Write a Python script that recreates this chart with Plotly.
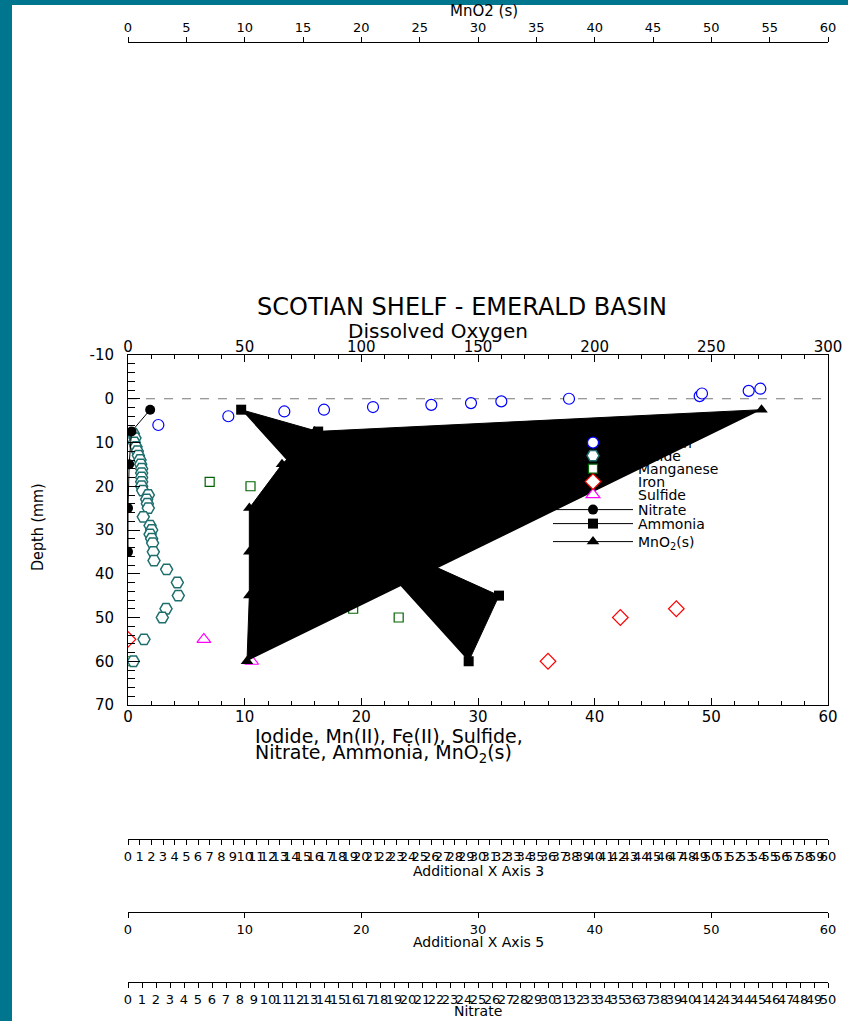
import plotly.graph_objects as go

# ---------------- data ----------------
oxygen_conc = [13, 43, 67, 84, 105, 130, 147, 160, 189, 245, 246, 266, 271]
oxygen_depth = [6.0, 4.0, 2.9, 2.5, 1.9, 1.4, 1.0, 0.6, 0.0, -0.6, -1.2, -1.8, -2.3]

iodide_depth = [8, 9, 10, 11, 12, 13, 14, 15, 16, 17, 18, 19, 20, 21, 22, 23, 24, 25,
                27, 29, 30, 31, 32, 33, 35, 37, 39, 42, 45, 48, 50, 55, 60]
iodide_conc = [0.46, 0.6, 0.54, 0.69, 0.8, 0.89, 1.03, 1.09, 1.17, 1.17, 1.17, 1.17, 1.17,
               1.26, 1.74, 1.6, 1.66, 1.74, 1.31, 1.89, 2.03, 1.89, 2.03, 2.11, 2.17, 2.23,
               3.31, 4.23, 4.31, 3.26, 2.94, 1.37, 0.46]

manganese_depth = [19, 20, 48, 50, 60]
manganese_conc = [7.0, 10.5, 19.3, 23.2, 0.0]

iron_depth = [55, 60, 50, 48]
iron_conc = [0.0, 36.0, 42.2, 47.0]

sulfide_depth = [55, 60]
sulfide_conc = [6.5, 10.6]

nitrate_depth = [2.5, 7.5, 15, 25, 35]
nitrate_conc = [1.9, 0.3, 0.1, 0.0, 0.0]

ammonia_depth = [2.5, 7.5, 15, 25, 35, 45, 60]
ammonia_conc = [9.7, 16.3, 18.0, 20.0, 23.5, 31.8, 29.2]

mno2_depth = [2.5, 7.5, 15, 25, 35, 45, 60]
mno2_conc = [54.3, 16.0, 13.2, 10.4, 10.4, 10.4, 10.2]

depth_tick_vals = [-10, 0, 10, 20, 30, 40, 50, 60, 70]
depth_tick_text = ["-10", "0", "10", "20", "30", "40", "50", "60", "70"]

# ---------------- layout helpers ----------------
W, H = 848, 1021
ML, MR = 128, 20
PW = W - ML - MR


def px(p):
    return (p - ML) / PW


def py(p):
    return 1 - p / H


FONT = "DejaVu Sans"
TEAL = "#00768E"
black = "black"

# one legend box per row so the rows can sit as tightly as in the original
legend_rows = {"legend": 443, "legend2": 456, "legend3": 469, "legend4": 482,
               "legend5": 495, "legend6": 510, "legend7": 524, "legend8": 542}

fig = go.Figure()

fig.add_trace(go.Scatter(x=manganese_conc, y=manganese_depth, mode="markers", name="Manganese",
                         legend="legend3",
                         marker=dict(symbol="square", size=9, color="white",
                                     line=dict(color="#006400", width=1.2))))
fig.add_trace(go.Scatter(x=sulfide_conc, y=sulfide_depth, mode="markers", name="Sulfide",
                         legend="legend5",
                         marker=dict(symbol="triangle-up", size=12, color="white",
                                     line=dict(color="#FF00FF", width=1.2))))
fig.add_trace(go.Scatter(x=iron_conc, y=iron_depth, mode="markers", name="Iron",
                         legend="legend4",
                         marker=dict(symbol="diamond", size=12, color="white",
                                     line=dict(color="#FF0000", width=1.2))))
fig.add_trace(go.Scatter(x=iodide_conc, y=iodide_depth, mode="markers", name="Iodide",
                         legend="legend2",
                         marker=dict(symbol="hexagon2", size=12, color="white",
                                     line=dict(color="#1F6E6E", width=1.5))))
fig.add_trace(go.Scatter(x=nitrate_conc, y=nitrate_depth, mode="lines+markers", name="Nitrate",
                         legend="legend6",
                         line=dict(color=black, width=1),
                         marker=dict(symbol="circle", size=10, color=black)))
fig.add_trace(go.Scatter(x=ammonia_conc, y=ammonia_depth, mode="none", fill="toself",
                         fillcolor=black, showlegend=False, hoverinfo="skip"))
fig.add_trace(go.Scatter(x=mno2_conc, y=mno2_depth, mode="none", fill="toself",
                         fillcolor=black, showlegend=False, hoverinfo="skip"))
fig.add_trace(go.Scatter(x=ammonia_conc, y=ammonia_depth, mode="lines+markers", name="Ammonia",
                         legend="legend7",
                         line=dict(color=black, width=1),
                         marker=dict(symbol="square", size=10, color=black)))
fig.add_trace(go.Scatter(x=mno2_conc, y=mno2_depth, mode="lines+markers",
                         name="MnO<sub>2</sub>(s)", legend="legend8",
                         line=dict(color=black, width=1),
                         marker=dict(symbol="triangle-up", size=11, color=black)))
fig.add_trace(go.Scatter(x=oxygen_conc, y=oxygen_depth, mode="markers", name="Oxygen",
                         legend="legend", xaxis="x2", yaxis="y",
                         marker=dict(symbol="circle", size=11, color="white",
                                     line=dict(color="#0000FF", width=1.2))))

# empty traces so that the extra (data-free) axes get drawn
for ax in ["x3", "x4", "x5", "x6"]:
    fig.add_trace(go.Scatter(x=[None], y=[None], xaxis=ax, yaxis="y", mode="markers",
                             showlegend=False, hoverinfo="skip"))

tickfont = dict(family=FONT, size=15, color=black)
small_tickfont = dict(family=FONT, size=13, color=black)

common_axis = dict(showgrid=False, zeroline=False, showline=True, linecolor=black,
                   linewidth=1, tickcolor=black, tickwidth=1, automargin=False)

legend_style = dict(x=px(548), xanchor="left", yanchor="middle", bgcolor="rgba(0,0,0,0)",
                    borderwidth=0, itemwidth=80, font=dict(family=FONT, size=14, color=black))
legend_layout = {name: dict(y=py(row), **legend_style) for name, row in legend_rows.items()}

fig.update_layout(
    width=W, height=H,
    margin=dict(l=ML, r=MR, t=0, b=0, pad=0, autoexpand=False),
    paper_bgcolor=TEAL,
    plot_bgcolor="white",
    showlegend=True,
    **legend_layout,
    xaxis=dict(domain=[0, 1], anchor="y", range=[0, 60], tick0=0, dtick=10,
               ticks="inside", ticklen=7, tickfont=tickfont, ticklabelstandoff=-2,
               minor=dict(ticks="inside", dtick=2, ticklen=4, tickcolor=black),
               **common_axis),
    yaxis=dict(domain=[py(705), py(355)], anchor="x", range=[70, -10],
               tickmode="array", tickvals=depth_tick_vals, ticktext=depth_tick_text,
               ticks="inside", ticklen=12, tickfont=tickfont, mirror=True,
               ticklabelstandoff=10,
               minor=dict(ticks="inside", tick0=0, dtick=2, ticklen=7, tickcolor=black),
               **common_axis),
    xaxis2=dict(overlaying="x", anchor="y", side="top", range=[0, 300], tick0=0, dtick=50,
                ticks="inside", ticklen=7, tickfont=tickfont, ticklabelstandoff=-4,
                minor=dict(ticks="inside", dtick=10, ticklen=4, tickcolor=black),
                **common_axis),
    xaxis3=dict(overlaying="x", anchor="free", position=py(42), side="top",
                range=[0, 60], tick0=0, dtick=5, ticks="outside", ticklen=5,
                tickfont=small_tickfont, tickangle=0, **common_axis),
    xaxis4=dict(overlaying="x", anchor="free", position=py(839), side="bottom",
                range=[0, 60], tick0=0, dtick=1, ticks="outside", ticklen=5,
                tickfont=small_tickfont, tickangle=0, **common_axis),
    xaxis5=dict(overlaying="x", anchor="free", position=py(912), side="bottom",
                range=[0, 60], tick0=0, dtick=10, ticks="outside", ticklen=5,
                tickfont=small_tickfont, tickangle=0, **common_axis),
    xaxis6=dict(overlaying="x", anchor="free", position=py(982), side="bottom",
                range=[0, 50], tick0=0, dtick=1, ticks="outside", ticklen=5,
                tickfont=small_tickfont, tickangle=0, **common_axis),
)

# white page area and the dashed surface line
fig.add_shape(type="rect", xref="paper", yref="paper", x0=px(12), x1=px(W + 5),
              y0=py(H + 5), y1=py(5), fillcolor="white", line=dict(width=0), layer="below")
fig.add_shape(type="line", xref="paper", yref="y", x0=0, x1=1, y0=0, y1=0,
              line=dict(color="#777777", width=1, dash="dash"), layer="below")


def note(text, x, y, size, **kw):
    fig.add_annotation(text=text, xref="paper", yref="paper", x=x, y=y, showarrow=False,
                       font=dict(family=kw.pop("family", FONT), size=size, color=black), **kw)


note("SCOTIAN SHELF - EMERALD BASIN", px(462), py(307), 24, xanchor="center", yanchor="middle")
note("Dissolved Oxygen", px(438), py(331), 20, xanchor="center", yanchor="middle")
note("Iodide, Mn(II), Fe(II), Sulfide,", px(253), py(736), 19, xanchor="left", yanchor="middle")
note("Nitrate, Ammonia, MnO<sub>2</sub>(s)", px(253), py(753), 19, xanchor="left",
     yanchor="middle")
note("Depth (mm)", px(37), py(527), 16, xanchor="center", yanchor="middle", textangle=-90,
     family="Liberation Sans Narrow, DejaVu Sans Condensed, Liberation Sans")
note("MnO2 (s)", px(484), py(11), 15, xanchor="center", yanchor="middle")
note("Additional X Axis 3", px(478), py(871), 14, xanchor="center", yanchor="middle")
note("Additional X Axis 5", px(478), py(942), 14, xanchor="center", yanchor="middle")
note("Nitrate", px(478), py(1011), 14, xanchor="center", yanchor="middle")

page_js = (
    "var s=[document.documentElement, document.body];"
    "s.forEach(function(e){e.style.margin='0';e.style.padding='0';"
    "e.style.overflow='hidden';e.style.background='" + TEAL + "';});"
)

fig.write_html("out.html", config={"displayModeBar": False}, post_script=page_js)
